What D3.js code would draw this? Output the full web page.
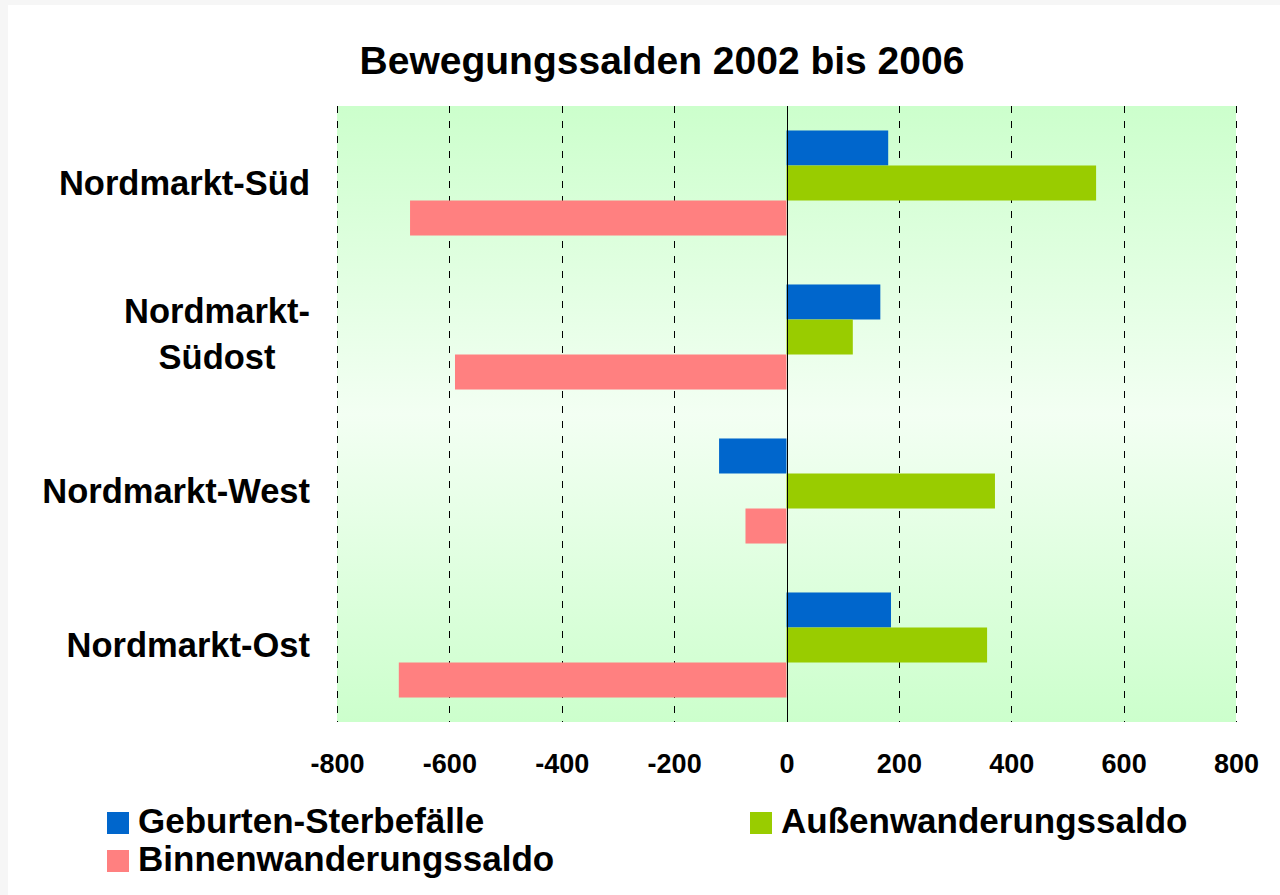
<!DOCTYPE html>
<html><head><meta charset="utf-8">
<script src="https://cdn.jsdelivr.net/npm/d3@7"></script>
<style>body{margin:0;background:#f6f6f6;}svg{display:block;font-family:"Liberation Sans",Arial,sans-serif;font-weight:bold;}</style>
</head><body>
<svg id="c" width="1280" height="895"></svg>
<script>
const title = "Bewegungssalden 2002 bis 2006";
const categories = ["Nordmarkt-Süd", "Nordmarkt-\nSüdost", "Nordmarkt-West", "Nordmarkt-Ost"];
const seriesNames = ["Geburten-Sterbefälle", "Außenwanderungssaldo", "Binnenwanderungssaldo"];
const seriesColors = ["#0066CC", "#99CC00", "#FF8080"];
const geburten = [181, 167, -120, 186];
const aussen = [551, 118, 371, 357];
const binnen = [-670, -590, -73, -690];
const ticks = [-800, -600, -400, -200, 0, 200, 400, 600, 800];
const seriesValues = [geburten, aussen, binnen];

const svg = d3.select("#c");
svg.append("rect").attr("x", 8).attr("y", 5).attr("width", 1272).attr("height", 890).attr("fill", "#fff");

const L = 337, R = 1236, T = 106, B = 722;
const x = d3.scaleLinear().domain([-800, 800]).range([L, R]);
const y = d3.scaleBand().domain(categories).range([T, B]).paddingInner(0.318).paddingOuter(0.159);
const ys = d3.scaleBand().domain(d3.range(3)).range([0, y.bandwidth()]);

const defs = svg.append("defs");
const g = defs.append("linearGradient").attr("id", "bg").attr("x1", 0).attr("y1", 0).attr("x2", 0).attr("y2", 1);
g.append("stop").attr("offset", "0%").attr("stop-color", "#CCFFCC");
g.append("stop").attr("offset", "50%").attr("stop-color", "#F3FFF3");
g.append("stop").attr("offset", "100%").attr("stop-color", "#CCFFCC");
svg.append("rect").attr("x", L).attr("y", T).attr("width", R - L).attr("height", B - T).attr("fill", "url(#bg)");

// gridlines
svg.append("g").selectAll("line").data(ticks.filter(t => t !== 0)).join("line")
  .attr("x1", d => Math.round(x(d)) + 0.5).attr("x2", d => Math.round(x(d)) + 0.5)
  .attr("y1", T).attr("y2", B)
  .attr("stroke", "#000").attr("stroke-width", 1).attr("stroke-dasharray", "7,8");

// bars
const rows = [];
categories.forEach((c, i) => seriesValues.forEach((s, j) => rows.push({c, j, v: s[i]})));
svg.append("g").selectAll("rect").data(rows).join("rect")
  .attr("x", d => x(Math.min(0, d.v)))
  .attr("width", d => Math.abs(x(d.v) - x(0)))
  .attr("y", d => y(d.c) + ys(d.j))
  .attr("height", ys.bandwidth())
  .attr("fill", d => seriesColors[d.j]);

// zero line
svg.append("line").attr("x1", Math.round(x(0)) + 0.5).attr("x2", Math.round(x(0)) + 0.5)
  .attr("y1", T).attr("y2", B).attr("stroke", "#000").attr("stroke-width", 1);

// x axis labels
const ax = d3.axisBottom(x).tickValues(ticks).tickSize(0).tickPadding(0).tickFormat(d => String(d));
const axg = svg.append("g").attr("transform", `translate(0,${B})`).call(ax);
axg.select(".domain").remove();
axg.selectAll("text").attr("font-size", 27).attr("font-family", "Liberation Sans, Arial, sans-serif")
  .attr("font-weight", "bold").attr("fill", "#000").attr("dy", null).attr("y", 51);

// category labels
categories.forEach(c => {
  const lines = c.split("\n");
  const cy = y(c) + y.bandwidth() / 2;
  const lh = 46;
  const t = svg.append("text").attr("font-size", 34.5).attr("fill", "#000");
  lines.forEach((ln, k) => {
    t.append("tspan").attr("x", 0).attr("y", cy + (k - (lines.length - 1) / 2) * lh + (lines.length > 1 ? 9 : 12)).text(ln);
  });
  if (lines.length === 1) {
    t.attr("text-anchor", "end").selectAll("tspan").attr("x", 310);
  } else {
    const w = d3.max(t.selectAll("tspan").nodes(), n => n.getComputedTextLength());
    t.attr("text-anchor", "middle").selectAll("tspan").attr("x", 310 - w / 2);
  }
});

// title
svg.append("text").attr("x", 662).attr("y", 74).attr("text-anchor", "middle")
  .attr("font-size", 39).text(title);

// legend
const legPos = [[107, 812], [750, 812], [107, 850]];
seriesNames.forEach((n, i) => {
  const [lx, ly] = legPos[i];
  svg.append("rect").attr("x", lx).attr("y", ly).attr("width", 22).attr("height", 22).attr("fill", seriesColors[i]);
  svg.append("text").attr("x", lx + 31).attr("y", ly + 21).attr("font-size", 35).text(n);
});
</script>
</body></html>
